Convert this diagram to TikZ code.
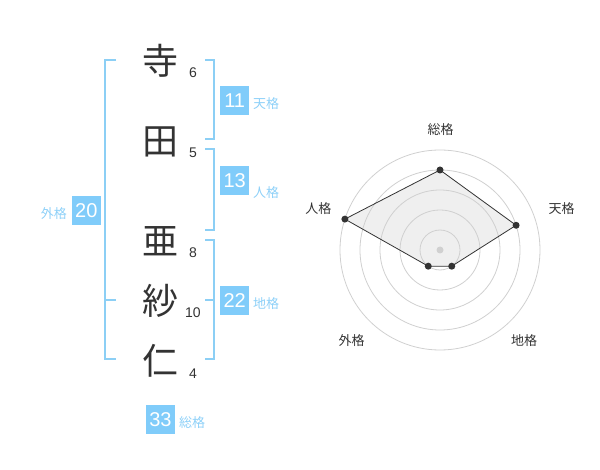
\documentclass[tikz,border=0pt]{standalone}
\usepackage{fontspec}
\setmainfont{Noto Sans CJK JP}
\newfontfamily\numfont{Liberation Sans}
\definecolor{brk}{HTML}{8CCFF5}
\definecolor{boxc}{HTML}{80CCFA}
\definecolor{lblc}{HTML}{8DD0F8}
\definecolor{ink}{HTML}{333333}
\definecolor{ringc}{HTML}{D0D0D0}
\definecolor{polyfill}{HTML}{EFEFEF}
\tikzset{
  kanji/.style={font=\fontsize{36}{36}\selectfont, text=ink, inner sep=0pt},
  stroke/.style={font=\numfont\fontsize{14}{14}\selectfont, text=ink, inner sep=0pt},
  bracket/.style={draw=brk, line width=2pt},
  scorebox/.style={fill=boxc, text=white, minimum width=29pt, minimum height=29pt, inner sep=0pt, font=\numfont\fontsize{20}{20}\selectfont},
  kaku/.style={text=lblc, font=\fontsize{13}{13}\selectfont, inner sep=0pt},
  ring/.style={draw=ringc, line width=0.8pt},
  pt/.style={circle, fill=ink, minimum size=7pt, inner sep=0pt},
  axlabel/.style={text=ink, font=\fontsize{13}{13}\selectfont, inner sep=0pt}
}
\begin{document}
\begin{tikzpicture}[x=1pt,y=-1pt]
\useasboundingbox (0,0) rectangle (600,470);
% characters
\node[kanji] (c1) at (160,61) {寺};
\node[kanji] (c2) at (160,142) {田};
\node[kanji] (c3) at (160,241) {亜};
\node[kanji] (c4) at (160,301) {紗};
\node[kanji] (c5) at (160,361) {仁};
% stroke counts
\node[stroke] (n1) at (193,72.7) {6};
\node[stroke] (n2) at (193,152.7) {5};
\node[stroke] (n3) at (193,252.7) {8};
\node[stroke] (n4) at (193,312.7) {10};
\node[stroke] (n5) at (193,373.3) {4};
% brackets
\draw[bracket] (116,60) -- (105,60) -- (105,359.3) -- (116,359.3);
\draw[bracket] (105,300) -- (116,300);
\draw[bracket] (205,60) -- (214.3,60) -- (214.3,139.3) -- (205,139.3);
\draw[bracket] (205,149.3) -- (214.3,149.3) -- (214.3,230) -- (205,230);
\draw[bracket] (205,240) -- (214.3,240) -- (214.3,359.3) -- (205,359.3);
\draw[bracket] (205,300) -- (214.3,300);
% score boxes
\node[scorebox] (ten) at (234.7,100.5) {11};
\node[kaku, anchor=west] (tenl) at (253,104) {天格};
\node[scorebox] (jin) at (234.7,180.5) {13};
\node[kaku, anchor=west] (jinl) at (253,193) {人格};
\node[scorebox] (gai) at (86.3,210.3) {20};
\node[kaku, anchor=east] (gail) at (67,214) {外格};
\node[scorebox] (chi) at (234.7,300.3) {22};
\node[kaku, anchor=west] (chil) at (253,304) {地格};
\node[scorebox] (sou) at (160.5,419.5) {33};
\node[kaku, anchor=west] (soul) at (179,422.3) {総格};
% radar
\coordinate (O) at (440,250);
\path (O) ++(0,-80) coordinate (pSo);
\path (O) ++({80*cos(18)},{-80*sin(18)}) coordinate (pTe);
\path (O) ++({20*cos(54)},{20*sin(54)}) coordinate (pCh);
\path (O) ++({-20*cos(54)},{20*sin(54)}) coordinate (pGa);
\path (O) ++({-100*cos(18)},{-100*sin(18)}) coordinate (pJi);
\fill[polyfill] (pSo) -- (pTe) -- (pCh) -- (pGa) -- (pJi) -- cycle;
\foreach \r in {20,40,60,80,100} \draw[ring] (O) circle (\r);
\node[circle, fill=ringc, minimum size=7pt, inner sep=0pt] (ctr) at (O) {};
\draw[draw=ink, line width=0.8pt] (pSo) -- (pTe) -- (pCh) -- (pGa) -- (pJi) -- cycle;
\foreach \p in {pSo,pTe,pCh,pGa,pJi} \node[pt] (d\p) at (\p) {};
\node[axlabel] (lSo) at (440.7,130) {総格};
\node[axlabel] (lTe) at (561.7,208.3) {天格};
\node[axlabel] (lCh) at (524,341) {地格};
\node[axlabel] (lGa) at (351.7,341) {外格};
\node[axlabel] (lJi) at (318.3,209) {人格};
\end{tikzpicture}
\end{document}
